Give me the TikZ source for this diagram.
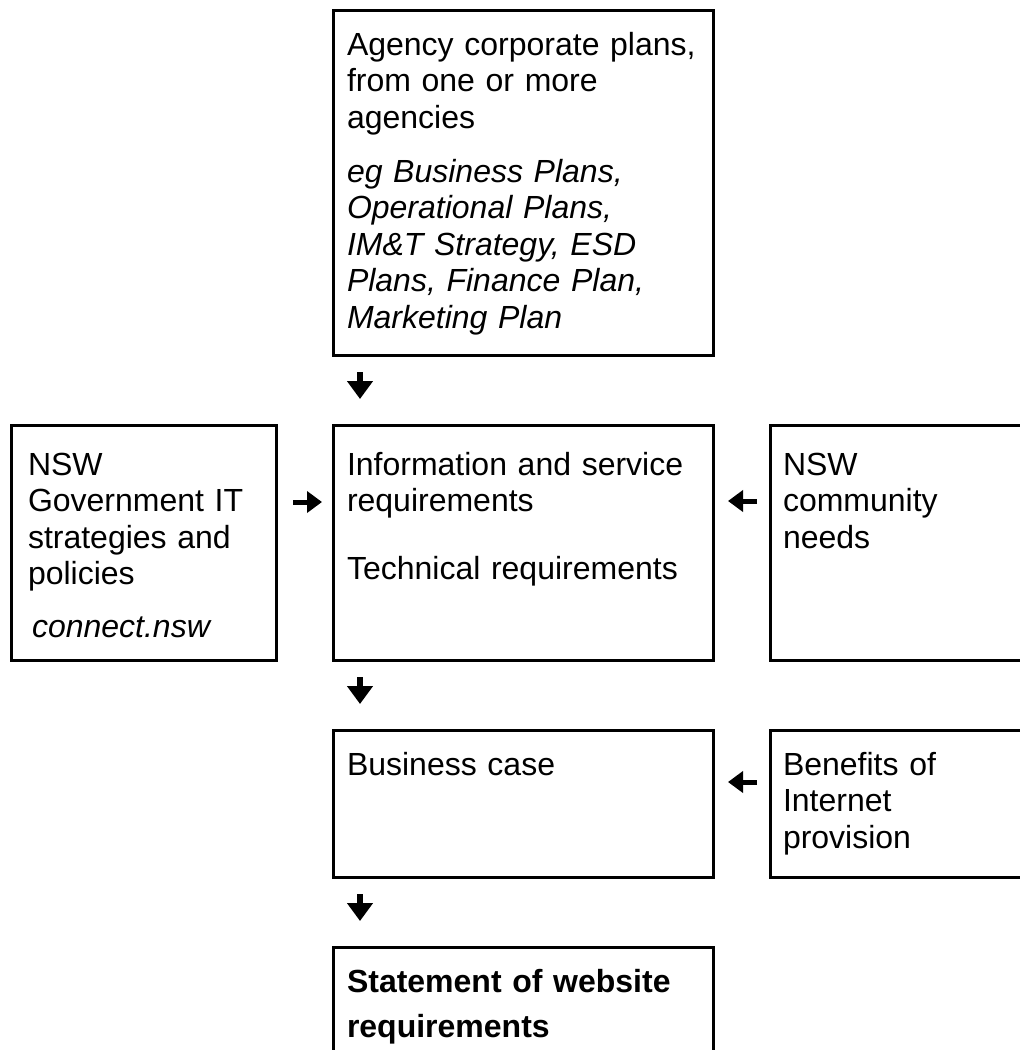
\documentclass[tikz,border=0pt]{standalone}
\usepackage{fontspec}
\setmainfont{Liberation Sans}
\usetikzlibrary{arrows.meta,calc}
\newcommand\diafont{\fontsize{32}{36.5}\selectfont}
\begin{document}
\begin{tikzpicture}[x=1pt,y=-1pt,
  box/.style={draw,line width=3pt,inner sep=0pt,outer sep=0pt,anchor=north west},
  txt/.style={anchor=north west,inner sep=0pt,outer sep=0pt,text width=370pt,align=left,font=\diafont},
  arr/.style={line width=6pt,-{Triangle[width=25pt,length=18pt]}},
  harr/.style={line width=5pt,-{Triangle[width=21pt,length=15pt]}}]
\useasboundingbox (0,0) rectangle (1020,1050);
\clip (0,0) rectangle (1020,1050);
% boxes
\node[box,minimum width=380pt,minimum height=345pt] (top) at (333,10) {};
\node[box,minimum width=265pt,minimum height=235pt] (left) at (11,425) {};
\node[box,minimum width=380pt,minimum height=235pt] (mid) at (333,425) {};
\node[box,minimum width=270pt,minimum height=235pt] (right) at (770,425) {};
\node[box,minimum width=380pt,minimum height=147pt] (bc) at (333,730) {};
\node[box,minimum width=270pt,minimum height=147pt] (ben) at (770,730) {};
\node[box,minimum width=380pt,minimum height=200pt] (stmt) at (333,947) {};
% texts
\node[txt] (toptxt) at (347,29.5) {\strut Agency corporate plans,\\ from one or more\\ agencies\\[17.5pt]
  \itshape eg Business Plans,\\ Operational Plans,\\ IM\&T Strategy, ESD\\ Plans, Finance Plan,\\ Marketing Plan};
\node[txt] (lefttxt) at (28,449.5) {\strut NSW\\ Government IT\\ strategies and\\ policies\\[16pt]
  \hspace*{4pt}\itshape connect.nsw};
\node[txt] (midtxt) at (347,449.5) {\strut Information and service\\ requirements\\[31pt] Technical requirements};
\node[txt] (righttxt) at (783,449.5) {\strut NSW\\ community\\ needs};
\node[txt] (bctxt) at (347,749.5) {\strut Business case};
\node[txt] (bentxt) at (783,749.5) {\strut Benefits of\\ Internet\\ provision};
\node[txt] (stmttxt) at (347,966.5) {\strut\bfseries Statement of website\\[8.5pt] requirements};
% connector end points
\coordinate (a1s) at ($(top.south west)+(27,17)$);
\coordinate (a1e) at ($(top.south west)+(27,44)$);
\coordinate (a2s) at ($(left.north east)+(17,77)$);
\coordinate (a2e) at ($(left.north east)+(46,77)$);
\coordinate (a3s) at ($(right.north west)+(-13,76)$);
\coordinate (a3e) at ($(right.north west)+(-42,76)$);
\coordinate (a4s) at ($(mid.south west)+(27,17)$);
\coordinate (a4e) at ($(mid.south west)+(27,44)$);
\coordinate (a5s) at ($(ben.north west)+(-13,52)$);
\coordinate (a5e) at ($(ben.north west)+(-42,52)$);
\coordinate (a6s) at ($(bc.south west)+(27,17)$);
\coordinate (a6e) at ($(bc.south west)+(27,44)$);
\draw[arr] (a1s) -- (a1e);
\draw[harr] (a2s) -- (a2e);
\draw[harr] (a3s) -- (a3e);
\draw[arr] (a4s) -- (a4e);
\draw[harr] (a5s) -- (a5e);
\draw[arr] (a6s) -- (a6e);
\end{tikzpicture}
\end{document}
